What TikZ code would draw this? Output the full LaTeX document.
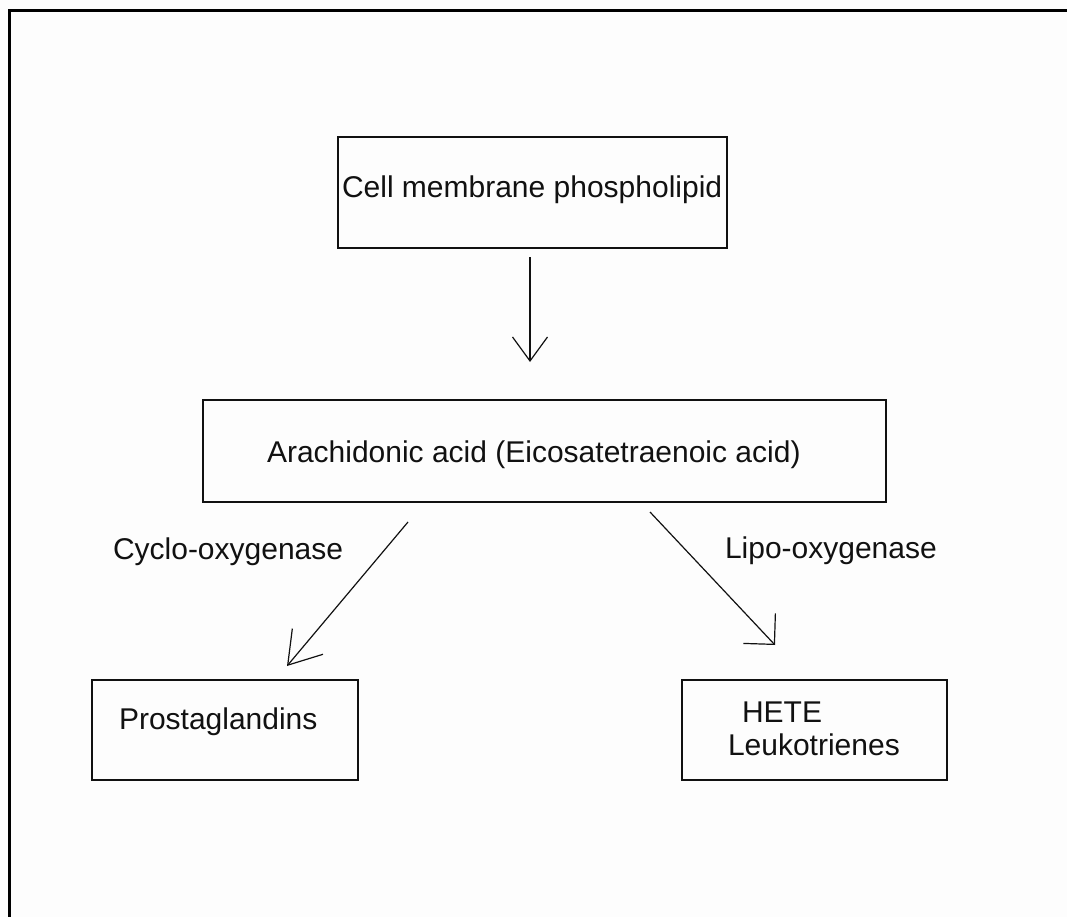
\documentclass[tikz,border=0pt]{standalone}
\usepackage{fontspec}
\setmainfont{Liberation Sans}
\usetikzlibrary{arrows.meta}
\definecolor{bgc}{HTML}{FDFDFD}
\definecolor{ink}{HTML}{111111}
\begin{document}
\begin{tikzpicture}[x=1pt,y=-1pt,
  box/.style={draw=ink,line width=1.8pt,rectangle,inner sep=0pt,outer sep=0pt},
  lbl/.style={anchor=base west,inner sep=0pt,outer sep=0pt,font=\fontsize{30}{36}\selectfont,text=ink},
  conn/.style={draw=ink,line width=1.2pt},
  frame/.style={draw=black,line width=3pt}]
\useasboundingbox[fill=bgc] (0,0) rectangle (1067,917);
% frame
\draw[frame] (9,917) -- (9,10.3) -- (1067,10.3);
% boxes
\node[box,minimum width=389pt,minimum height=111pt] (cell) at (532.5,192.5) {};
\node[box,minimum width=683pt,minimum height=102pt] (arach) at (544.5,451) {};
\node[box,minimum width=266pt,minimum height=100pt] (prost) at (225,730) {};
\node[box,minimum width=265pt,minimum height=100pt] (hete) at (814.5,730) {};
% texts
\node[lbl] (tcell) at (342,198) {Cell membrane phospholipid};
\node[lbl] (tarach) at (267,462) {Arachidonic acid (Eicosatetraenoic acid)};
\node[lbl] (tcox) at (113,559) {Cyclo-oxygenase};
\node[lbl] (tlox) at (725,558) {Lipo-oxygenase};
\node[lbl] (tprost) at (119,729) {Prostaglandins};
\node[lbl] (thete) at (742,722) {HETE};
\node[lbl] (tleuk) at (728,755) {Leukotrienes};
% connectors
\draw[conn,-{Straight Barb[length=24pt,width=35pt,line width=1.2pt]}]
  ([xshift=-2.5pt,yshift=-9pt]cell.south) -- ([xshift=-14.5pt,yshift=38pt]arach.north);
\draw[conn,-{Straight Barb[length=31pt,width=40pt,line width=1.2pt]}]
  ([xshift=-136.5pt,yshift=-20pt]arach.south) -- ([xshift=62pt,yshift=14pt]prost.north);
\draw[conn,-{Straight Barb[length=22pt,width=44pt,line width=1.2pt]}]
  ([xshift=105.5pt,yshift=-10pt]arach.south) -- ([xshift=-39.5pt,yshift=35pt]hete.north);
\end{tikzpicture}
\end{document}
